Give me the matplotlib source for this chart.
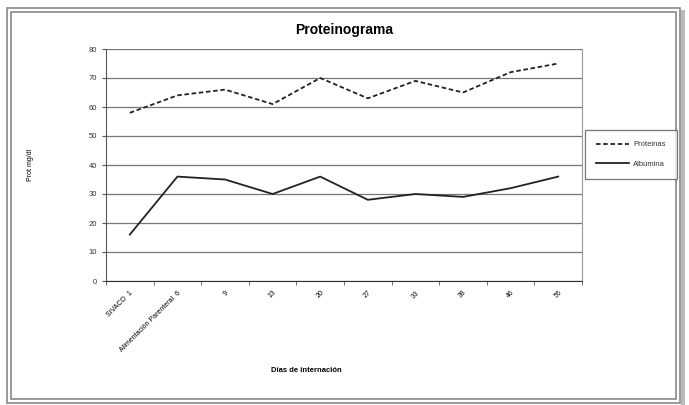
import matplotlib.pyplot as plt
import matplotlib.patches as patches
import numpy as np

plt.rcParams['font.family'] = ['Liberation Sans', 'DejaVu Sans']

dias = ['SIVACO  1', 'Alimentación Parenteral  6', '9', '13', '20', '27', '33', '38', '46', '56']
proteinas = [58, 64, 66, 61, 70, 63, 69, 65, 72, 75]
albumina = [16, 36, 35, 30, 36, 28, 30, 29, 32, 36]

fig = plt.figure(figsize=(6.89, 4.05), dpi=100)

# marco exterior tipo captura de Excel
fig.patches.append(patches.Rectangle((7/689, 1-403/405), 673/689, 395/405, transform=fig.transFigure,
                                     fill=False, edgecolor='#888888', linewidth=1.2))
fig.patches.append(patches.Rectangle((11/689, 1-399/405), 665/689, 387/405, transform=fig.transFigure,
                                     fill=False, edgecolor='#888888', linewidth=1.2))
fig.patches.append(patches.Rectangle((681/689, 1-405/405), 4/689, 395/405, transform=fig.transFigure,
                                     facecolor='#bbbbbb', edgecolor='none'))

ax = fig.add_axes([106/689, 1-281/405, 476/689, 232/405])
x = np.arange(len(dias))

ax.plot(x, proteinas, color='#222222', linewidth=1.3, linestyle=(0, (2.5, 1.5)), label='Proteinas')
ax.plot(x, albumina, color='#222222', linewidth=1.3, label='Albúmina')

ax.set_xlim(-0.5, len(dias) - 0.5)
ax.set_ylim(0, 80)
ax.set_yticks(range(0, 81, 10))
ax.yaxis.grid(True, color='#777777', linewidth=0.9)
ax.set_axisbelow(True)

ax.set_xticks(x)
ax.set_xticklabels(dias, rotation=45, ha='right', rotation_mode='anchor', fontsize=5)
ax.set_xticks(np.arange(-0.5, len(dias), 1), minor=True)
ax.tick_params(axis='x', which='major', length=0, pad=6)
ax.tick_params(axis='x', which='minor', length=3, color='#555555')
ax.tick_params(axis='y', length=3, labelsize=5.5, color='#555555', labelcolor='#333333')

ax.spines['top'].set_visible(False)
ax.spines['right'].set_color('#999999')
ax.spines['left'].set_color('#555555')
ax.spines['bottom'].set_color('#333333')

ax.set_title('Proteinograma', fontsize=10, fontweight='bold', pad=11)
fig.text(30/689, 1-165/405, 'Prot mg/dl', rotation=90, fontsize=5, ha='center', va='center')
fig.text(306/689, 1-370/405, 'Días de internación', fontsize=5.5, fontweight='bold', ha='center', va='center')

leg = fig.legend(loc='center', bbox_to_anchor=(631/689, 1-154.5/405), fontsize=5.5, frameon=True,
                 fancybox=False, edgecolor='#555555', handlelength=4.3, labelspacing=1.6,
                 borderpad=1.5, handletextpad=0.6)
leg.get_frame().set_linewidth(0.9)
for t in leg.get_texts():
    t.set_color('#333333')

fig.savefig('out.png', dpi=100)
